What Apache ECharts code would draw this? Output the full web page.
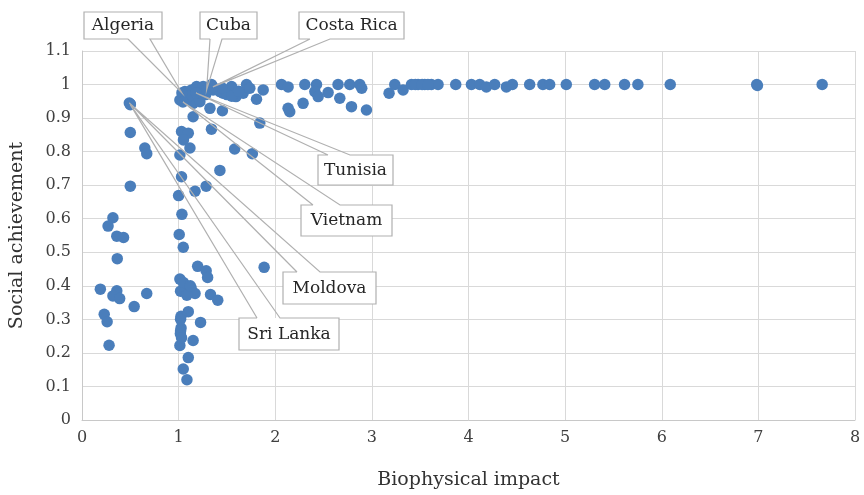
<!DOCTYPE html>
<html>
<head>
<meta charset="utf-8">
<script src="https://cdn.jsdelivr.net/npm/echarts@6/dist/echarts.min.js"></script>
<style>
html,body{margin:0;padding:0;background:#fff;}
#chart{width:864px;height:495px;}
</style>
</head>
<body>
<div id="chart"></div>
<script>
// ---- data ----
const xTickLabels = ['0','1','2','3','4','5','6','7','8'];
const yTickLabels = ['0','0.1','0.2','0.3','0.4','0.5','0.6','0.7','0.8','0.9','1','1.1'];

const biophysicalImpact = [
  0.50,0.50,0.65,0.67,0.50,0.32,0.27,0.36,0.43,0.365,0.19,0.36,0.32,0.39,0.67,0.54,0.23,0.26,0.28,
  1.00,1.17,1.285,1.034,1.006,1.048,1.197,1.285,1.30,1.013,1.06,1.13,1.17,1.02,1.085,1.33,1.405,1.10,1.025,1.227,1.025,1.018,1.15,1.013,1.10,1.048,1.086,1.885,1.02,1.02,1.03,1.05,1.12,
  1.03,1.10,1.05,1.117,1.013,1.34,1.58,1.763,1.427,1.03,
  1.013,1.065,1.134,1.186,1.254,1.34,1.357,1.427,1.46,1.548,1.593,1.668,1.703,1.737,1.875,1.806,1.15,1.22,1.324,1.453,1.15,1.84,1.50,1.55,1.62,1.45,1.28,1.10,1.20,
  2.065,2.133,2.306,2.427,2.41,2.444,2.547,2.65,2.668,2.771,2.875,2.895,2.15,2.133,2.288,2.789,2.944,
  3.178,3.237,3.323,3.41,3.478,3.547,3.616,3.685,3.868,4.03,4.116,4.185,4.271,4.392,4.454,4.633,4.77,4.84,5.012,5.305,5.41,5.615,5.753,6.088,6.983,6.99,7.66,3.45,3.52,3.58
];
const socialAchievement = [
  0.942,0.857,0.811,0.794,0.697,0.603,0.578,0.548,0.544,0.481,0.39,0.385,0.37,0.362,0.377,0.338,0.315,0.293,0.223,
  0.669,0.682,0.697,0.613,0.553,0.515,0.458,0.445,0.425,0.42,0.40,0.393,0.377,0.384,0.372,0.374,0.357,0.323,0.309,0.291,0.274,0.257,0.237,0.222,0.186,0.152,0.12,0.455,0.30,0.265,0.245,0.41,0.40,
  0.86,0.855,0.835,0.811,0.79,0.867,0.808,0.794,0.744,0.725,
  0.954,0.979,0.984,0.994,0.994,1.0,0.984,0.979,0.974,0.994,0.964,0.974,1.0,0.989,0.984,0.956,0.944,0.949,0.929,0.922,0.904,0.885,0.97,0.965,0.98,0.99,0.97,0.965,0.975,
  1.0,0.993,1.0,1.0,0.979,0.964,0.976,1.0,0.959,1.0,1.0,0.989,0.919,0.929,0.944,0.934,0.924,
  0.974,1.0,0.984,1.0,1.0,1.0,1.0,1.0,1.0,1.0,1.0,0.993,1.0,0.993,1.0,1.0,1.0,1.0,1.0,1.0,1.0,1.0,1.0,1.0,1.0,0.997,1.0,1.0,1.0,1.0
];

const labelledCountries = ['Algeria','Cuba','Costa Rica','Tunisia','Vietnam','Moldova','Sri Lanka'];
const labelledImpact    = [1.034, 1.29, 1.355, 1.18, 1.045, 0.49, 0.50];
const labelledSocial    = [0.975, 0.984, 0.993, 0.975, 0.948, 0.945, 0.94];

// ---- callout layout (pixels, annotation placement only) ----
const calloutBoxes = [
  {x:84,  y:12,  w:78,  h:27, side:'bottom', b0:128, b1:150},
  {x:200, y:12,  w:57,  h:27, side:'bottom', b0:210, b1:222},
  {x:299, y:12,  w:105, h:27, side:'bottom', b0:310, b1:330},
  {x:318, y:155, w:75,  h:30, side:'top',    b0:328, b1:350},
  {x:301, y:205, w:91,  h:31, side:'top',    b0:313, b1:340},
  {x:283, y:272, w:93,  h:32, side:'top',    b0:297, b1:320},
  {x:239, y:318, w:100, h:32, side:'top',    b0:257, b1:280}
];

const points = biophysicalImpact.map((v, i) => [v, socialAchievement[i]]);
const labelled = labelledCountries.map((n, i) => [labelledImpact[i], labelledSocial[i], n]);

const FONT = 'DejaVu Serif';
const chart = echarts.init(document.getElementById('chart'), null, {renderer:'canvas'});
chart.setOption({
  animation: false,
  backgroundColor: '#ffffff',
  grid: {left: 82, right: 9, top: 51, bottom: 73.5, containLabel: false},
  xAxis: {
    type: 'value', min: 0, max: 8, interval: 1,
    name: 'Biophysical impact', nameLocation: 'middle', nameGap: 51,
    nameTextStyle: {fontFamily: FONT, fontSize: 19, color: '#333333'},
    axisLine: {show: true, lineStyle: {color: '#c8c8c8'}},
    axisTick: {show: false},
    axisLabel: {fontFamily: FONT, fontSize: 16, color: '#404040', margin: 10,
      formatter: v => xTickLabels[Math.round(v)] },
    splitLine: {show: true, lineStyle: {color: '#d9d9d9', width: 1}}
  },
  yAxis: {
    type: 'value', min: 0, max: 1.1, interval: 0.1,
    name: 'Social achievement', nameLocation: 'middle', nameGap: 55,
    nameTextStyle: {fontFamily: FONT, fontSize: 19, color: '#333333'},
    axisLine: {show: true, lineStyle: {color: '#c8c8c8'}},
    axisTick: {show: false},
    axisLabel: {fontFamily: FONT, fontSize: 16, color: '#404040', margin: 11,
      formatter: v => yTickLabels[Math.round(v * 10)] },
    splitLine: {show: true, lineStyle: {color: '#d9d9d9', width: 1}}
  },
  series: [
    {
      type: 'scatter', data: points.concat(labelled.map(d => [d[0], d[1]])),
      symbolSize: 11.5, itemStyle: {color: '#4a7ebb', opacity: 1},
      z: 2
    },
    {
      type: 'custom', data: labelled, clip: false, z: 5,
      renderItem: function (params, api) {
        const tip = api.coord([api.value(0), api.value(1)]);
        const b = calloutBoxes[params.dataIndex];
        let pts;
        if (b.side === 'bottom') {
          pts = [[b.b0, b.y + b.h], [b.x, b.y + b.h], [b.x, b.y], [b.x + b.w, b.y], [b.x + b.w, b.y + b.h], [b.b1, b.y + b.h], tip, [b.b0, b.y + b.h]];
        } else {
          pts = [[b.b0, b.y], [b.x, b.y], [b.x, b.y + b.h], [b.x + b.w, b.y + b.h], [b.x + b.w, b.y], [b.b1, b.y], tip, [b.b0, b.y]];
        }
        return {
          type: 'group',
          children: [
            {type: 'rect', shape: {x: b.x, y: b.y, width: b.w, height: b.h},
             style: {fill: '#ffffff', stroke: null}},
            {type: 'polyline', shape: {points: pts},
             style: {fill: null, stroke: '#b0b0b0', lineWidth: 1.2, lineJoin: 'miter'}},
            {type: 'text', style: {
              text: labelledCountries[params.dataIndex],
              x: b.x + b.w / 2, y: b.y + b.h / 2 + 0.5,
              textAlign: 'center', textVerticalAlign: 'middle',
              fontFamily: FONT, fontSize: 17, fill: '#262626'}}
          ]
        };
      }
    }
  ]
});
</script>
</body>
</html>
